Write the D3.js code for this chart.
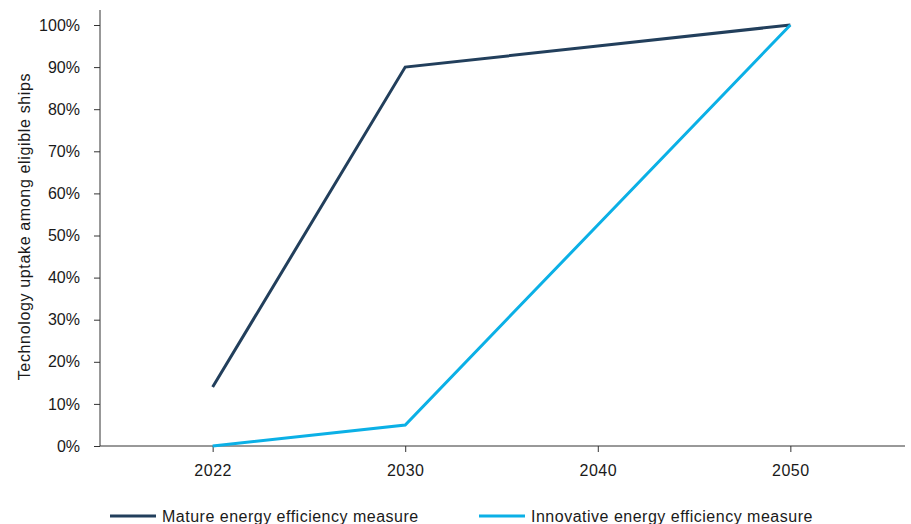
<!DOCTYPE html>
<html>
<head>
<meta charset="utf-8">
<script src="https://cdn.jsdelivr.net/npm/d3@7"></script>
<style>
  html, body { margin: 0; padding: 0; background: #fff; }
  svg { display: block; font-family: "Liberation Sans", Arial, sans-serif; }
</style>
</head>
<body>
<svg id="chart" width="911" height="524"></svg>
<script>
// Uptake of energy-efficiency technologies among eligible ships
const years = ["2022", "2030", "2040", "2050"];
const matureUptake = [14, 90, 95, 100];
const innovativeUptake = [0, 5, 52.5, 100];
const yTicks = [0, 10, 20, 30, 40, 50, 60, 70, 80, 90, 100];
const seriesNames = ["Mature energy efficiency measure", "Innovative energy efficiency measure"];
const seriesColors = ["#223f5c", "#0bb0e6"];

const series = [
  { name: seriesNames[0], color: seriesColors[0], values: matureUptake },
  { name: seriesNames[1], color: seriesColors[1], values: innovativeUptake }
];

const svg = d3.select("#chart");
const plotLeft = 100, plotRight = 905, plotTop = 25, plotBottom = 446;

const x = d3.scalePoint().domain(years).range([plotLeft, plotRight - 2]).padding(0.585);
const y = d3.scaleLinear().domain([0, 100]).range([plotBottom, plotTop]);

const axisColor = "#333";
const textColor = "#1a1a1a";

// Y axis
const yAxis = svg.append("g")
  .attr("transform", `translate(${plotLeft},0)`)
  .call(d3.axisLeft(y).tickValues(yTicks).tickFormat(d => d + "%").tickSize(6).tickPadding(14).tickSizeOuter(0));
yAxis.select(".domain").remove();
yAxis.append("line").attr("x1", 0).attr("x2", 0).attr("y1", 10).attr("y2", plotBottom)
  .attr("stroke", axisColor).attr("stroke-width", 1);
yAxis.selectAll(".tick line").attr("stroke", axisColor);
yAxis.selectAll(".tick text").attr("fill", textColor).style("font-size", "16px");

// X axis
const xAxis = svg.append("g")
  .attr("transform", `translate(0,${plotBottom})`)
  .call(d3.axisBottom(x).tickSize(6).tickPadding(13).tickSizeOuter(0));
xAxis.select(".domain").remove();
xAxis.append("line").attr("x1", plotLeft).attr("x2", plotRight).attr("y1", 0).attr("y2", 0)
  .attr("stroke", axisColor).attr("stroke-width", 1);
xAxis.selectAll(".tick line").attr("stroke", axisColor);
xAxis.selectAll(".tick text").attr("fill", textColor).style("font-size", "16px").style("letter-spacing", "0.5px");

// Y axis title
svg.append("text")
  .attr("transform", `translate(30,${(plotTop + plotBottom) / 2 - 9}) rotate(-90)`)
  .attr("text-anchor", "middle")
  .attr("fill", textColor)
  .style("font-size", "16px")
  .style("letter-spacing", "0.65px")
  .text("Technology uptake among eligible ships");

// Lines
const line = d3.line()
  .x((d, i) => x(years[i]))
  .y(d => y(d));

svg.selectAll("path.series")
  .data(series)
  .join("path")
  .attr("class", "series")
  .attr("fill", "none")
  .attr("stroke", d => d.color)
  .attr("stroke-width", 3)
  .attr("stroke-linejoin", "miter")
  .attr("d", d => line(d.values));

// Legend
const legendX = [110, 479];
const legend = svg.selectAll("g.legend")
  .data(series)
  .join("g")
  .attr("class", "legend")
  .attr("transform", (d, i) => `translate(${legendX[i]},516)`);
legend.append("line")
  .attr("x1", 0).attr("x2", 46).attr("y1", 0).attr("y2", 0)
  .attr("stroke", d => d.color).attr("stroke-width", 3);
legend.append("text")
  .attr("x", 52).attr("y", 6)
  .attr("fill", textColor)
  .style("font-size", "16px")
  .style("letter-spacing", "0.5px")
  .text(d => d.name);
</script>
</body>
</html>
